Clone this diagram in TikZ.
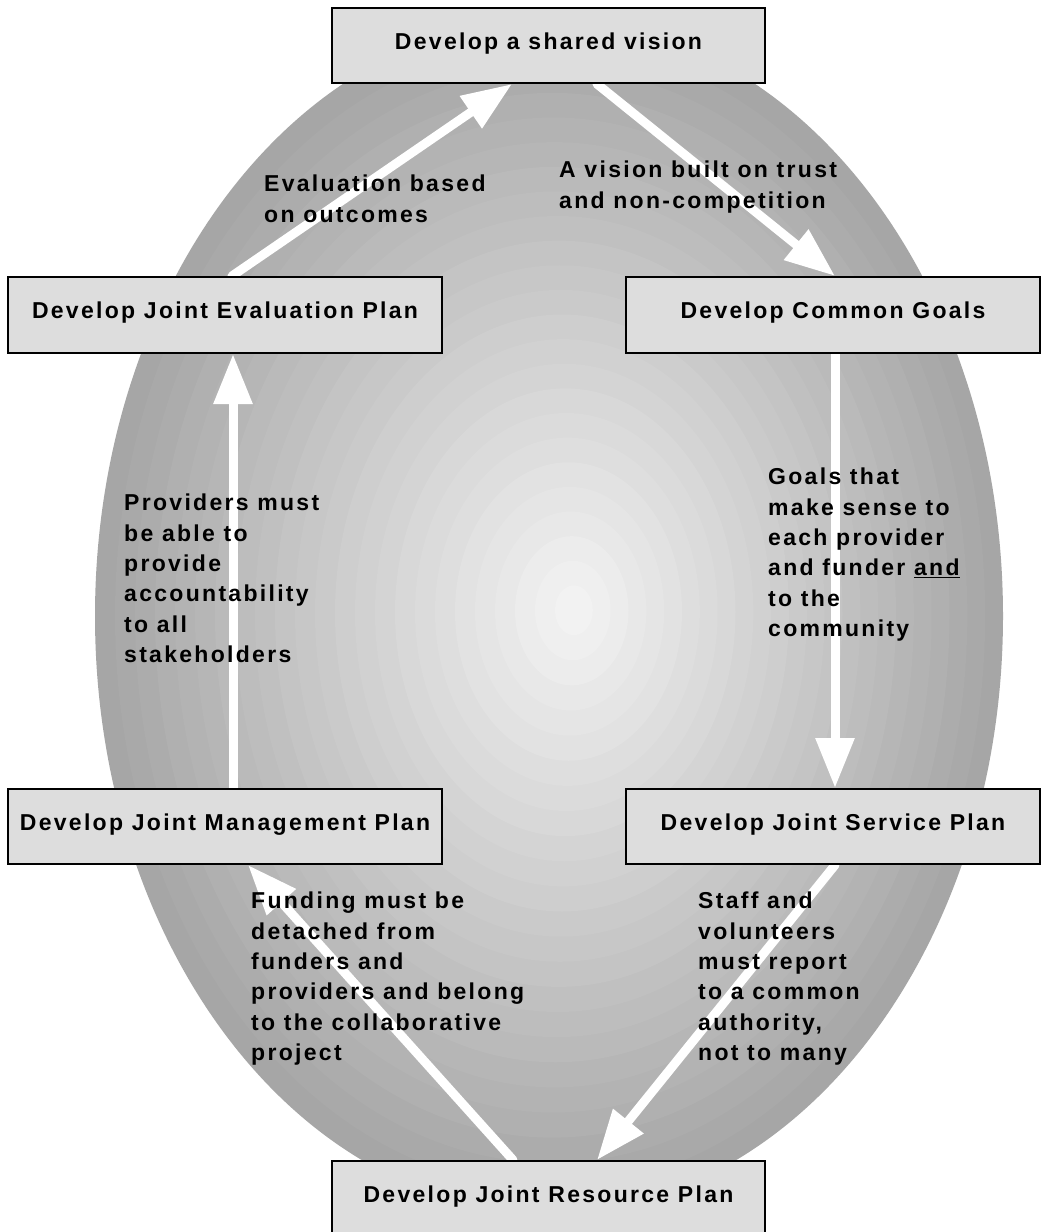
\documentclass[tikz,border=0pt]{standalone}
\usepackage{fontspec}
\setmainfont{Liberation Sans}[LetterSpace=10]
\usetikzlibrary{arrows.meta}

\definecolor{boxfill}{gray}{0.867}

\pgfdeclarelayer{bands}
\pgfdeclarelayer{arrows}
\pgfdeclarelayer{labels}
\pgfsetlayers{bands,arrows,main,labels}

\begin{document}
\begin{tikzpicture}[x=1pt,y=-1pt,
  stage/.style={draw=black, line width=2pt, fill=boxfill, inner sep=0pt,
    text height=16.5pt, text depth=9pt,
    font=\bfseries\fontsize{23}{30.3}\selectfont},
  flow/.style={white, line width=9pt, line cap=round,
    -{Triangle[length=50pt,width=37pt]}},
  note/.style={anchor=north west, inner sep=0pt, align=left,
    font=\bfseries\fontsize{23}{30.3}\selectfont}]

\useasboundingbox (0,0) rectangle (1047,1232);

% shaded oval behind the cycle, built from concentric bands
\begin{pgfonlayer}{bands}
  \fill[white] (0,0) rectangle (1047,1232);
  \foreach \i in {0,...,23}{
    \pgfmathsetmacro\s{1-\i/24}
    \pgfmathsetmacro\g{65+30*\i/23}
    \fill[white!\g!black] ({549+26*(1-\s)},{616-6*(1-\s)})
      ellipse [x radius={454*\s}, y radius={597*\s}];
  }
\end{pgfonlayer}

% the six stages
\node[stage, minimum width=433pt, minimum height=75pt] (vision)   at (548.5,45.5)  {Develop a shared vision};
\node[stage, minimum width=414pt, minimum height=76pt] (goals)    at (833,315)     {Develop Common Goals};
\node[stage, minimum width=414pt, minimum height=75pt] (service)  at (833,826.5)   {Develop Joint Service Plan};
\node[stage, minimum width=433pt, minimum height=75pt] (resource) at (548.5,1198.5){Develop Joint Resource Plan};
\node[stage, minimum width=434pt, minimum height=75pt] (mgmt)     at (225,826.5)   {Develop Joint Management Plan};
\node[stage, minimum width=434pt, minimum height=76pt] (eval)     at (225,315)     {Develop Joint Evaluation Plan};

% connectors between the stages
\begin{pgfonlayer}{arrows}
  \draw[flow] ([xshift=7pt]eval.north)      -- ([xshift=-36.5pt]vision.south);
  \draw[flow] ([xshift=48.5pt]vision.south) -- ([xshift=2pt]goals.north);
  \draw[flow] ([xshift=2pt]goals.south)     -- ([xshift=2pt]service.north);
  \draw[flow] ([xshift=2pt]service.south)   -- ([xshift=48.5pt]resource.north);
  \draw[flow] ([xshift=-35.5pt]resource.north) -- ([xshift=23pt]mgmt.south);
  \draw[flow] ([xshift=8pt]mgmt.north)      -- ([xshift=8pt]eval.south);
\end{pgfonlayer}

% connector labels
\begin{pgfonlayer}{labels}
  \node[note] (lEval)   at (264,175) {Evaluation based\\on outcomes};
  \node[note] (lVision) at (559,161) {A vision built on trust\\and non-competition};
  \node[note] (lGoals)  at (768,468) {Goals that\\make sense to\\each provider\\and funder \underline{and}\\to the\\community};
  \node[note] (lProv)   at (124,494) {Providers must\\be able to\\provide\\accountability\\to all\\stakeholders};
  \node[note] (lFund)   at (251,892) {Funding must be\\detached from\\funders and\\providers and belong\\to the collaborative\\project};
  \node[note] (lStaff)  at (698,892) {Staff and\\volunteers\\must report\\to a common\\authority,\\not to many};
\end{pgfonlayer}
\end{tikzpicture}
\end{document}
